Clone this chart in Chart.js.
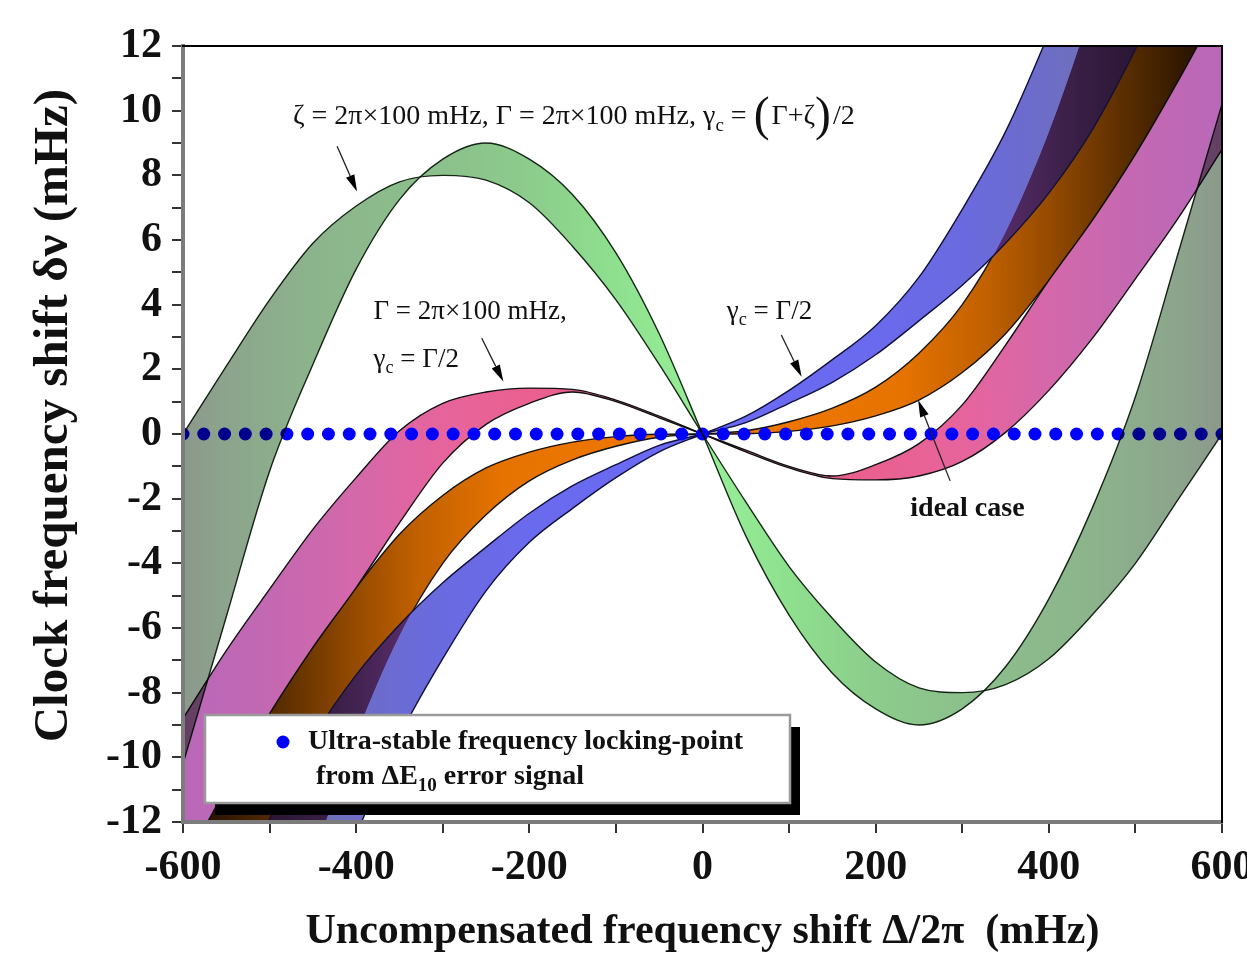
<!DOCTYPE html>
<html>
<head>
<meta charset="utf-8">
<title>Clock frequency shift</title>
<script src="https://cdn.jsdelivr.net/npm/chart.js@4.4.1/dist/chart.umd.min.js"></script>
<style>
  html, body { margin: 0; padding: 0; background: #fff; }
  canvas { display: block; }
</style>
</head>
<body>
<canvas id="shiftChart" width="1247" height="962"></canvas>
<script>
// Values (x: uncompensated shift in mHz, y: clock shift in mHz)
const detuning = [-600, -550, -500, -450, -400, -350, -300, -250, -200, -150, -100, -50, 0,
                  50, 100, 150, 200, 250, 300, 350, 400, 450, 500, 550, 600];

// zeta = Gamma = 2pi x 100 mHz, gamma_c = (Gamma + zeta)/2
const greenWide = [0, 2.1, 4.15, 5.9, 7.05, 7.8, 8.0, 7.85, 7.15, 5.8, 4.15, 2.15, 0,
                   -2.1, -4.1, -5.7, -7.05, -7.85, -8.0, -7.75, -6.95, -5.6, -4.0, -2.0, 0];
const greenNarrow = [-10.2, -5.65, -1.15, 2.15, 5.1, 7.25, 8.5, 9.0, 8.5, 7.4, 5.6, 3.1, 0,
                     -3.15, -5.6, -7.4, -8.5, -9.0, -8.5, -7.2, -5.1, -2.3, 1.15, 5.65, 10.2];

// Gamma = 2pi x 100 mHz, gamma_c = Gamma/2
const pinkWide = [-8.8, -6.7, -4.8, -2.95, -1.35, 0.1, 0.95, 1.3, 1.42, 1.38, 1.05, 0.55, 0,
                  -0.55, -1.05, -1.38, -1.42, -1.3, -0.85, 0.05, 1.35, 2.95, 4.8, 6.7, 8.8];
const pinkNarrow = [-13.4, -10.95, -8.65, -6.6, -4.75, -2.75, -0.9, 0.3, 0.95, 1.3, 1.0, 0.5, 0,
                    -0.5, -1.0, -1.3, -0.95, -0.3, 0.9, 2.75, 4.75, 6.6, 8.65, 10.95, 13.4];

// ideal case
const orangeInner = [-27.0, -22.0, -17.5, -13.2, -9.35, -6.25, -4.0, -2.5, -1.45, -0.8, -0.38, -0.1, 0,
                     0.1, 0.38, 0.8, 1.45, 2.5, 4.0, 6.25, 9.35, 13.2, 17.5, 22.0, 27.0];
const orangeOuter = [-13.4, -10.95, -8.65, -6.6, -4.75, -3.1, -1.9, -1.05, -0.56, -0.25, -0.08, -0.01, 0,
                     0.01, 0.08, 0.25, 0.56, 1.05, 1.9, 3.1, 4.75, 6.6, 8.65, 10.95, 13.4];

// gamma_c = Gamma/2
const blueOuter = [-28.0, -23.5, -19.5, -15.8, -12.4, -9.35, -6.95, -4.85, -3.35, -2.3, -1.35, -0.55, 0,
                   0.55, 1.35, 2.3, 3.35, 4.85, 6.95, 9.35, 12.4, 15.8, 19.5, 23.5, 28.0];
const blueInner = [-18.0, -14.8, -11.9, -9.4, -7.45, -5.9, -4.6, -3.5, -2.45, -1.6, -0.95, -0.35, 0,
                   0.35, 0.95, 1.6, 2.45, 3.5, 4.6, 5.9, 7.45, 9.4, 11.9, 14.8, 18.0];

// locking points found from the error signal, all on the zero line
const lockingDetuning = [-600, -576, -552, -528, -504, -480, -456, -432, -408, -384, -360, -336, -312,
                         -288, -264, -240, -216, -192, -168, -144, -120, -96, -72, -48, -24, 0,
                         24, 48, 72, 96, 120, 144, 168, 192, 216, 240, 264, 288, 312, 336, 360,
                         384, 408, 432, 456, 480, 504, 528, 552, 576, 600];

const xTicks = { min: -600, max: 600, step: 100, labelEvery: 200 };
const yTicks = { min: -12, max: 12, step: 1, labelEvery: 2 };

const legendLines = ['Ultra-stable frequency locking-point', 'from ΔE', '10', ' error signal'];

const SERIF = '"Liberation Serif", "Times New Roman", serif';

// gradient stops by |x| (fills get darker away from zero detuning)
const greenStops = [[0, '#98f098'], [100, '#8ee08e'], [200, '#8ccc8c'], [300, '#8cc08c'], [450, '#8cb48c'], [550, '#8ca48c'], [600, '#8c988c']];
const pinkStops = [[0, '#e4587e'], [200, '#ea6090'], [300, '#e6649c'], [400, '#d468aa'], [500, '#c468b2'], [600, '#b868b8']];
const orangeStops = [[0, '#f27800'], [230, '#e67300'], [330, '#c06000'], [400, '#964b00'], [480, '#5f3000'], [560, '#2e1600'], [600, '#281200']];
const blueStops = [[0, '#6a6af6'], [200, '#6a6aee'], [300, '#6a6ae0'], [380, '#6c6ccc'], [450, '#7070b8'], [600, '#7070b0']];
const purpleStops = [[330, '#5a2d6e'], [420, '#3c2048'], [500, '#2a1634'], [600, '#201028']];

// annotations in data coordinates
const notes = [
  { x: -473, y: 9.8, size: 28, weight: 'normal',
    parts: [{ t: 'ζ = 2π×100 mHz, Γ = 2π×100 mHz, γ' }, { t: 'c', sub: true }, { t: ' = ' },
            { t: '(', big: true }, { t: 'Γ+ζ' }, { t: ')', big: true }, { t: '/2' }] },
  { x: -380, y: 3.78, size: 27, weight: 'normal', parts: [{ t: 'Γ = 2π×100 mHz,' }] },
  { x: -380, y: 2.3, size: 27, weight: 'normal', parts: [{ t: 'γ' }, { t: 'c', sub: true }, { t: ' = Γ/2' }] },
  { x: 28, y: 3.78, size: 27, weight: 'normal', parts: [{ t: 'γ' }, { t: 'c', sub: true }, { t: ' = Γ/2' }] },
  { x: 240, y: -2.32, size: 28, weight: 'bold', parts: [{ t: 'ideal case' }] }
];
const arrows = [
  [-422, 8.9, -399, 7.5],
  [-255, 2.96, -230, 1.62],
  [91, 3.06, 114.5, 1.77],
  [286, -1.45, 249, 1.05]
];

/**
 * Build a line dataset from one curve
 */
function curve(label, values, extra) {
  return Object.assign({
    label: label,
    data: detuning.map((x, i) => ({ x: x, y: values[i] })),
    borderColor: '#111',
    borderWidth: 1.4,
    pointRadius: 0,
    cubicInterpolationMode: 'monotone',
    backgroundColor: 'transparent',
    fill: false
  }, extra);
}

/**
 * Horizontal gradient, symmetric around zero detuning
 */
function makeGradient(chart, stops) {
  const xs = chart.scales.x;
  const g = chart.ctx.createLinearGradient(xs.getPixelForValue(xTicks.min), 0, xs.getPixelForValue(xTicks.max), 0);
  const span = xTicks.max - xTicks.min;
  for (const [at, color] of stops) {
    g.addColorStop((xTicks.max - at) / span, color);
    g.addColorStop((xTicks.max + at) / span, color);
  }
  return g;
}

/**
 * Gradient on one side of zero only (side 1 = right, -1 = left)
 */
function halfGradient(chart, stops, side) {
  const xs = chart.scales.x;
  const g = chart.ctx.createLinearGradient(xs.getPixelForValue(xTicks.min), 0, xs.getPixelForValue(xTicks.max), 0);
  const span = xTicks.max - xTicks.min;
  g.addColorStop(0.5, 'rgba(0,0,0,0)');
  g.addColorStop(side > 0 ? 0 : 1, 'rgba(0,0,0,0)');
  for (const [at, color] of stops) {
    g.addColorStop((xTicks.max + side * at) / span, color);
  }
  return g;
}

/**
 * Draw text made of pieces (subscripts, large brackets)
 */
function drawRich(ctx, x, y, parts, size, weight) {
  let cx = x;
  ctx.textAlign = 'left';
  ctx.textBaseline = 'middle';
  for (const p of parts) {
    const fs = p.sub ? size * 0.68 : (p.big ? size * 1.7 : size);
    ctx.font = `${weight} ${fs}px ${SERIF}`;
    ctx.fillText(p.t, cx, y + (p.sub ? size * 0.32 : 0));
    cx += ctx.measureText(p.t).width + (p.big ? 2 : 0);
  }
}

function drawArrow(ctx, x0, y0, x1, y1) {
  const ang = Math.atan2(y1 - y0, x1 - x0);
  const len = 17, half = 4.5;
  const bx = x1 - len * Math.cos(ang), by = y1 - len * Math.sin(ang);
  ctx.strokeStyle = '#222';
  ctx.lineWidth = 1.3;
  ctx.beginPath();
  ctx.moveTo(x0, y0);
  ctx.lineTo(bx, by);
  ctx.stroke();
  ctx.fillStyle = '#000';
  ctx.beginPath();
  ctx.moveTo(x1, y1);
  ctx.lineTo(bx + half * Math.sin(ang), by - half * Math.cos(ang));
  ctx.lineTo(bx - half * Math.sin(ang), by + half * Math.cos(ang));
  ctx.closePath();
  ctx.fill();
}

function drawNotes(chart) {
  const { ctx, scales } = chart;
  ctx.save();
  ctx.fillStyle = '#111';
  for (const n of notes) {
    drawRich(ctx, scales.x.getPixelForValue(n.x), scales.y.getPixelForValue(n.y), n.parts, n.size, n.weight);
  }
  for (const a of arrows) {
    drawArrow(ctx, scales.x.getPixelForValue(a[0]), scales.y.getPixelForValue(a[1]),
              scales.x.getPixelForValue(a[2]), scales.y.getPixelForValue(a[3]));
  }
  ctx.restore();
}

function drawLegendBox(chart) {
  const { ctx, chartArea } = chart;
  const left = chartArea.left + 22, top = chartArea.bottom - 107, w = 585, h = 88;
  ctx.save();
  ctx.fillStyle = '#000';
  ctx.fillRect(left + 10, top + 12, w, h);
  ctx.fillStyle = '#fff';
  ctx.fillRect(left, top, w, h);
  ctx.strokeStyle = '#9a9a9a';
  ctx.lineWidth = 2.5;
  ctx.strokeRect(left, top, w, h);

  const dots = chart.data.datasets.find(d => d.label === 'locking');
  ctx.fillStyle = dots.pointBackgroundColor;
  ctx.beginPath();
  ctx.arc(left + 78, top + 27, 6.5, 0, Math.PI * 2);
  ctx.fill();

  ctx.fillStyle = '#111';
  drawRich(ctx, left + 103, top + 27, [{ t: legendLines[0] }], 28, 'bold');
  drawRich(ctx, left + 111, top + 62, [{ t: legendLines[1] }, { t: legendLines[2], sub: true }, { t: legendLines[3] }], 28, 'bold');
  ctx.restore();
}

const figurePlugin = {
  id: 'figure',
  beforeDraw(chart) {
    const { ctx, width, height } = chart;
    ctx.save();
    ctx.fillStyle = '#fff';
    ctx.fillRect(0, 0, width, height);
    ctx.restore();
  },
  afterDatasetDraw(chart, args) {
    // the green band is laid over everything below it (dots turn navy under it)
    if (chart.data.datasets[args.index].label === 'locking') {
      chart.ctx.globalCompositeOperation = 'multiply';
    }
  },
  afterDatasetsDraw(chart) {
    chart.ctx.globalCompositeOperation = 'source-over';
  },
  afterDraw(chart) {
    drawNotes(chart);
    drawLegendBox(chart);
  }
};

function tickLabel(every) {
  return (v) => (Math.abs(v % every) < 1e-9 ? String(v) : '');
}

const datasets = [
  curve('orange outer', orangeOuter, { fill: 1, order: 100 }),
  curve('orange inner', orangeInner, { order: 90 }),
  curve('blue outer', blueOuter, { fill: 3, order: 80, borderColor: '#10103a' }),
  curve('blue inner', blueInner, { fill: { target: 1 }, order: 70, borderColor: '#10103a' }),
  curve('pink wide', pinkWide, { fill: 5, order: 60 }),
  curve('pink narrow', pinkNarrow, { order: 50 }),
  {
    label: 'locking',
    data: lockingDetuning.map(x => ({ x: x, y: 0 })),
    showLine: false,
    pointRadius: 6.5,
    pointBorderWidth: 0,
    pointBackgroundColor: '#0000ff',
    backgroundColor: '#0000ff',
    order: 40
  },
  curve('green wide', greenWide, { fill: 8, order: 30, borderColor: '#1a2a1a' }),
  curve('green narrow', greenNarrow, { order: 20, borderColor: '#1a2a1a' })
];

const ctx = document.getElementById('shiftChart').getContext('2d');
const chart = new Chart(ctx, {
  type: 'line',
  data: { datasets: datasets },
  options: {
    responsive: false,
    devicePixelRatio: 1,
    animation: false,
    events: [],
    layout: { padding: { top: 46, right: 25, left: 0, bottom: 0 } },
    plugins: {
      legend: { display: false },
      tooltip: { enabled: false }
    },
    scales: {
      x: {
        type: 'linear',
        position: 'bottom',
        min: xTicks.min,
        max: xTicks.max,
        afterFit: (s) => { s.height = 140; s.paddingLeft = 0; s.paddingRight = 0; },
        ticks: {
          stepSize: xTicks.step,
          autoSkip: false,
          maxRotation: 0,
          padding: 10,
          color: '#111',
          font: { family: SERIF, size: 42, weight: 'bold' },
          callback: tickLabel(xTicks.labelEvery)
        },
        grid: { drawOnChartArea: false, tickLength: 11, color: '#333', lineWidth: 2 },
        border: { color: '#7c7c7c', width: 4, z: 1 },
        title: {
          display: true,
          text: 'Uncompensated frequency shift Δ/2π  (mHz)',
          color: '#111',
          font: { family: SERIF, size: 42, weight: 'bold' },
          padding: { top: 0, bottom: 5 }
        }
      },
      y: {
        type: 'linear',
        position: 'left',
        min: yTicks.min,
        max: yTicks.max,
        afterFit: (s) => { s.width = 183; s.paddingTop = 0; s.paddingBottom = 0; },
        ticks: {
          stepSize: yTicks.step,
          autoSkip: false,
          padding: 10,
          color: '#111',
          font: { family: SERIF, size: 42, weight: 'bold' },
          callback: tickLabel(yTicks.labelEvery)
        },
        grid: { drawOnChartArea: false, tickLength: 11, color: '#333', lineWidth: 2 },
        border: { color: '#7c7c7c', width: 4, z: 1 },
        title: {
          display: true,
          // leading spaces lift the rotated text a little, as in the original
          text: '   Clock frequency shift δν (mHz)',
          color: '#111',
          font: { family: SERIF, size: 49, weight: 'bold' },
          padding: { top: 25, bottom: 0 }
        }
      },
      xTop: {
        type: 'linear',
        position: 'top',
        min: xTicks.min,
        max: xTicks.max,
        afterFit: (s) => { s.height = 0; s.paddingLeft = 0; s.paddingRight = 0; },
        ticks: { display: false },
        grid: { display: false, drawTicks: false },
        border: { color: '#000', width: 2, z: 1 }
      },
      yRight: {
        type: 'linear',
        position: 'right',
        min: yTicks.min,
        max: yTicks.max,
        afterFit: (s) => { s.width = 0; s.paddingTop = 0; s.paddingBottom = 0; },
        ticks: { display: false },
        grid: { display: false, drawTicks: false },
        border: { color: '#000', width: 2, z: 1 }
      }
    }
  },
  plugins: [figurePlugin]
});

// fills need the chart area, so they are set once the layout is known
datasets[0].backgroundColor = makeGradient(chart, orangeStops);
datasets[2].backgroundColor = makeGradient(chart, blueStops);
datasets[3].fill = {
  target: 1,
  above: halfGradient(chart, purpleStops, -1),
  below: halfGradient(chart, purpleStops, 1)
};
datasets[4].backgroundColor = makeGradient(chart, pinkStops);
datasets[7].backgroundColor = makeGradient(chart, greenStops);
chart.update('none');
</script>
</body>
</html>
